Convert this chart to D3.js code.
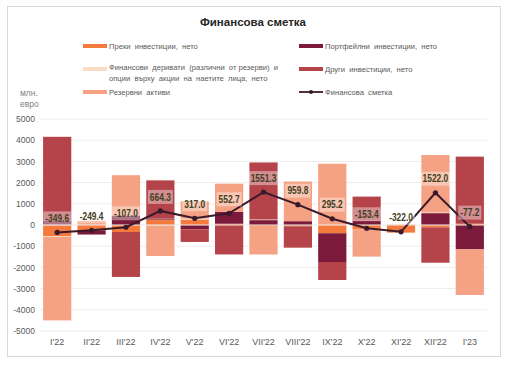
<!DOCTYPE html>
<html><head><meta charset="utf-8">
<script src="https://cdn.jsdelivr.net/npm/d3@7/dist/d3.min.js"></script>
<style>
html,body{margin:0;padding:0;background:#fff;}
svg{display:block;font-family:"Liberation Sans",Arial,sans-serif;}
</style></head>
<body><svg id="c" width="511" height="369"></svg>
<script>
const categories = ["I'22","II'22","III'22","IV'22","V'22","VI'22","VII'22","VIII'22","IX'22","X'22","XI'22","XII'22","I'23"];
const direct      = [-530, -250, -330, 255, 260, 60, -80, -60, -390, -200, -360, -110, 60];
const portfolio   = [200, -200, 450, 50, -200, 560, 230, 180, -1355, 200, 0, 560, -1150];
const derivatives = [-30, 0, 0, -10, 40, 0, 30, 0, 0, 0, 0, 30, 0];
const other       = [3960, 0, -2120, 1800, -600, -1390, 2690, -1010, -850, 1140, 0, -1670, 3165];
const reserves    = [-3940, 200, 1900, -1450, 820, 1330, -1310, 1870, 2890, -1290, 40, 2710, -2150];
const balance     = [-349.6, -249.4, -107.0, 664.3, 317.0, 552.7, 1551.3, 959.8, 295.2, -153.4, -322.0, 1522.0, -77.2];
const yTicks      = [-5000,-4000,-3000,-2000,-1000,0,1000,2000,3000,4000,5000];

const seriesDefs = [
  {key:"direct", name:"Преки  инвестиции,  нето", values:direct, color:"#F47B3D"},
  {key:"portfolio", name:"Портфейлни  инвестиции,  нето", values:portfolio, color:"#7B1A3A"},
  {key:"derivatives", name:["Финансови  деривати  (различни  от резерви)  и","опции  върху  акции  на  наетите  лица,  нето"], values:derivatives, color:"#F9DCC4"},
  {key:"other", name:"Други  инвестиции,  нето", values:other, color:"#B5434A"},
  {key:"reserves", name:"Резервни  активи", values:reserves, color:"#F5A183"}
];
const lineName = "Финансова  сметка";
const lineColor = "#3A1A2A";

const svg = d3.select("#c");
svg.append("rect").attr("x",7.5).attr("y",6.5).attr("width",493).attr("height",350)
  .attr("fill","#fff").attr("stroke","#D9D9D9");

svg.append("text").attr("x",253).attr("y",26).attr("text-anchor","middle")
  .attr("font-size",11.5).attr("font-weight","bold").attr("fill","#262626").text("Финансова сметка");

const legendPos = [
  {x:83,y:46},{x:299,y:46},{x:83,y:69},{x:299,y:69},{x:83,y:92}
];
seriesDefs.forEach((s,i)=>{
  const p = legendPos[i];
  svg.append("rect").attr("x",p.x).attr("y",p.y-2).attr("width",24).attr("height",4).attr("fill",s.color);
  const t = svg.append("text").attr("x",p.x+26).attr("y",p.y+3).attr("font-size",7.6).attr("fill","#595959")
    .style("white-space","pre");
  if (Array.isArray(s.name)) {
    t.attr("y",p.y+1);
    s.name.forEach((ln,j)=>t.append("tspan").attr("x",p.x+26).attr("dy",j?11:0).text(ln));
  } else t.text(s.name);
});
svg.append("line").attr("x1",299).attr("x2",323).attr("y1",92).attr("y2",92).attr("stroke",lineColor).attr("stroke-width",1.8);
svg.append("circle").attr("cx",311).attr("cy",92).attr("r",2).attr("fill",lineColor);
svg.append("text").attr("x",325).attr("y",95).attr("font-size",7.6).attr("fill","#595959").style("white-space","pre").text(lineName);

svg.append("text").attr("x",20).attr("y",96).attr("font-size",8.5).attr("fill","#7F7F7F").text("млн.");
svg.append("text").attr("x",20).attr("y",107).attr("font-size",8.5).attr("fill","#7F7F7F").text("евро");

const x = d3.scaleBand().domain(categories).range([40,487]).paddingInner(0.18).paddingOuter(0.09);
const y = d3.scaleLinear().domain([-5000,5000]).range([331,119]);

svg.append("g").selectAll("line").data(yTicks).join("line")
  .attr("x1",40).attr("x2",487).attr("y1",d=>y(d)).attr("y2",d=>y(d))
  .attr("stroke","#EDEDED").attr("stroke-width",1);

const yAxis = d3.axisLeft(y).tickValues(yTicks).tickSize(0).tickPadding(5).tickFormat(d=>String(d));
const gy = svg.append("g").attr("transform","translate(40,0)").call(yAxis);
gy.select(".domain").remove();
gy.selectAll("text").attr("font-size",8.5).attr("fill","#595959").attr("font-family","Liberation Sans, Arial");

const table = categories.map((c,i)=>{
  const o = {cat:c};
  seriesDefs.forEach(s=>o[s.key]=s.values[i]);
  return o;
});
const stack = d3.stack().keys(seriesDefs.map(s=>s.key)).offset(d3.stackOffsetDiverging);
const stacked = stack(table);
svg.append("g").selectAll("g").data(stacked).join("g")
  .attr("fill",(d,i)=>seriesDefs[i].color)
  .selectAll("rect").data(d=>d).join("rect")
  .attr("x",d=>x(d.data.cat)).attr("width",x.bandwidth())
  .attr("y",d=>y(Math.max(d[0],d[1]))).attr("height",d=>Math.abs(y(d[0])-y(d[1])));

svg.append("line").attr("x1",40).attr("x2",487).attr("y1",y(0)).attr("y2",y(0))
  .attr("stroke","#F2F2F2").attr("stroke-width",1);

const xAxis = d3.axisBottom(x).tickSize(0).tickPadding(8);
const gx = svg.append("g").attr("transform",`translate(0,${y(-5000)})`).call(xAxis);
gx.select(".domain").remove();
gx.selectAll("text").attr("font-size",9).attr("fill","#595959").attr("font-family","Liberation Sans, Arial");

const cx = d=>x(d)+x.bandwidth()/2;
const line = d3.line().x((d,i)=>cx(categories[i])).y(d=>y(d));
svg.append("path").datum(balance).attr("d",line).attr("fill","none")
  .attr("stroke",lineColor).attr("stroke-width",2);
svg.append("g").selectAll("circle").data(balance).join("circle")
  .attr("cx",(d,i)=>cx(categories[i])).attr("cy",d=>y(d)).attr("r",2.6).attr("fill",lineColor);

const sx = 0.8;
const lg = svg.append("g");
balance.forEach((v,i)=>{
  const px = cx(categories[i]), py = y(v) - 14;
  const g = lg.append("g").attr("transform",`translate(${px},${py})`);
  const t = g.append("text").attr("x",0).attr("y",3.6).attr("text-anchor","middle")
    .attr("transform",`scale(${sx},1)`)
    .attr("font-size",10.5).attr("font-weight","bold").attr("fill","#3F3F22")
    .text(v.toFixed(1));
  const w = t.node().getBBox().width*sx;
  g.insert("rect","text").attr("x",-w/2-2).attr("y",-7).attr("width",w+4).attr("height",14)
    .attr("fill","#fff").attr("fill-opacity",0.4);
});
</script></body></html>
